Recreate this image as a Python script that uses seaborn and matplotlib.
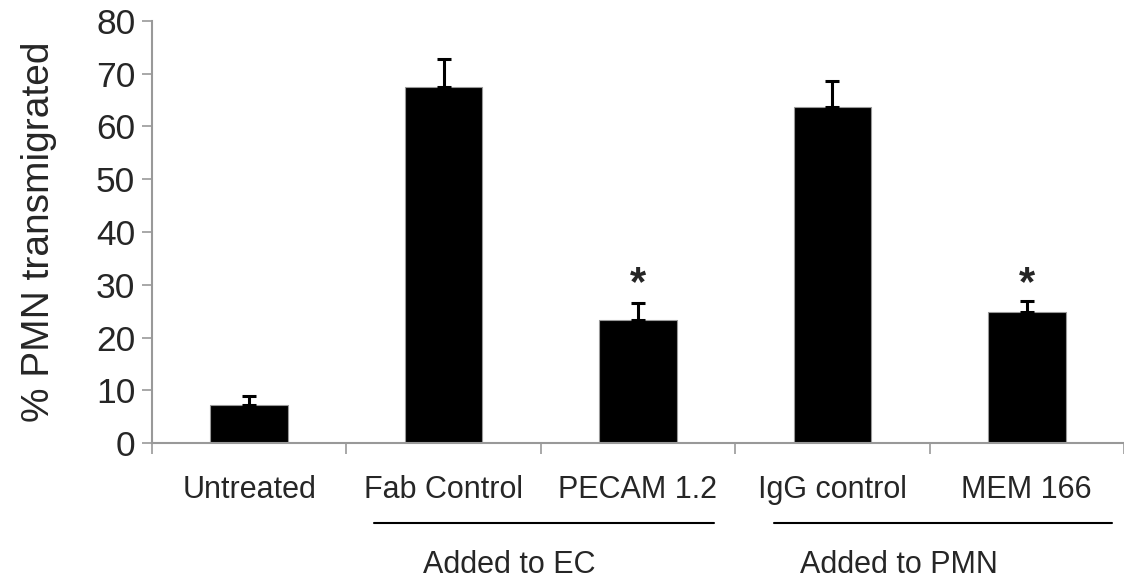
import pandas as pd
import seaborn as sns
import matplotlib.pyplot as plt
from matplotlib.transforms import blended_transform_factory

categories = ['Untreated', 'Fab Control', 'PECAM 1.2', 'IgG control', 'MEM 166']
values = [7.3, 67.5, 23.3, 63.6, 24.9]
errors = [1.6, 5.2, 3.2, 5.1, 2.1]
significant = [False, False, True, False, True]
groups = ['Added to EC', 'Added to PMN']
group_members = [['Fab Control', 'PECAM 1.2'], ['IgG control', 'MEM 166']]

df = pd.DataFrame({'cond': categories, 'pct': values, 'err': errors})

sns.set_style('white')
plt.rcParams['font.family'] = ['Liberation Sans', 'DejaVu Sans']

fig = plt.figure(figsize=(11.24, 5.81), dpi=100)
ax = fig.add_axes([0.1352, 0.2375, 0.8648, 0.7264])

sns.barplot(data=df, x='cond', y='pct', color='black', width=0.4,
            saturation=1, edgecolor='#999999', linewidth=0.8, ax=ax)

xs = list(range(len(categories)))
ax.errorbar(xs, df['pct'], yerr=[[0] * len(xs), df['err']], fmt='none',
            ecolor='black', elinewidth=2.2, capsize=4.8, capthick=2.2)

for x, v, e, s in zip(xs, values, errors, significant):
    if s:
        ax.text(x, 30.2, '*', ha='center', va='center', fontsize=30,
                fontweight='bold')

ax.set_ylim(0, 80)
ax.set_xlim(-0.5, 4.5)
ax.set_yticks(range(0, 81, 10))
ax.tick_params(axis='y', labelsize=25.5, length=7, width=1.2, color='#999999',
               direction='out', left=True, pad=5)
ax.set_xticks(xs)
ax.set_xticks([i - 0.5 for i in range(len(categories) + 1)], minor=True)
ax.tick_params(axis='x', which='major', length=0, labelsize=22, pad=23)
ax.tick_params(axis='x', which='minor', length=8, width=1.2, color='#999999',
               bottom=True, direction='out')
ax.set_xlabel('')
ax.set_ylabel('% PMN transmigrated', fontsize=28, labelpad=28)

for side in ['top', 'right']:
    ax.spines[side].set_visible(False)
for side in ['left', 'bottom']:
    ax.spines[side].set_color('#999999')
    ax.spines[side].set_linewidth(1.5)

trans = blended_transform_factory(ax.transData, ax.transAxes)
spans = [(0.64, 2.39), (2.70, 4.44)]
for name, members, (x0, x1) in zip(groups, group_members, spans):
    ax.plot([x0, x1], [-0.19, -0.19], color='black', lw=1.5,
            transform=trans, clip_on=False)
    cx = (categories.index(members[0]) + categories.index(members[1])) / 2
    ax.text(cx - 0.16, -0.29, name, ha='center', va='center', fontsize=22,
            transform=trans)

fig.savefig('out.png', dpi=100)
